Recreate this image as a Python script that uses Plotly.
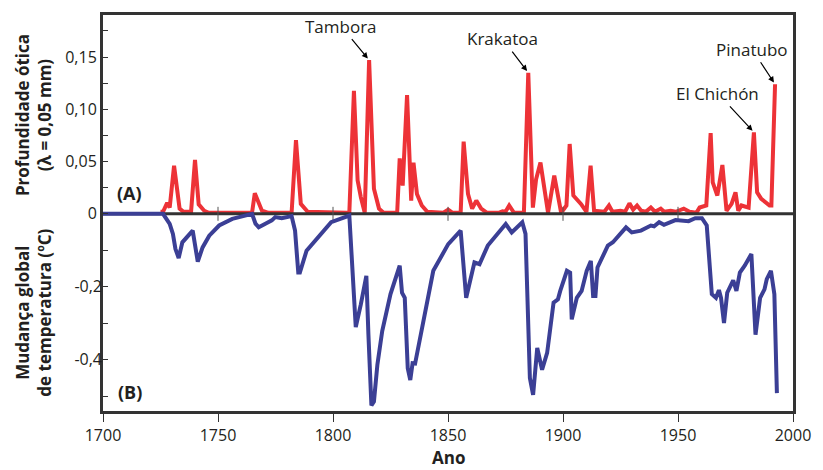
import plotly.graph_objects as go

# ---- data ----
red_years = [1725, 1726.1, 1727.9, 1729, 1730.9, 1733.3, 1735, 1738.3, 1740, 1741.6, 1744, 1746,
             1764.8, 1766, 1769.1, 1772, 1782, 1783.9, 1786, 1789, 1806, 1807.1, 1809.1, 1810.7,
             1812.1, 1813.8, 1815.7, 1817.8, 1820, 1822, 1827.9, 1829, 1830.3, 1832.2, 1834, 1835,
             1836.5, 1838.6, 1841, 1848, 1850.1, 1852, 1855.5, 1856.8, 1858.7, 1860.5, 1862.3,
             1864.4, 1867, 1872, 1873.7, 1875, 1876.6, 1878.7, 1883, 1884.9, 1886.9, 1888.3,
             1890.2, 1892.3, 1893.5, 1896.2, 1898, 1899.2, 1901.5, 1902.9, 1904.5, 1906.6, 1907.8,
             1910.2, 1912, 1913.5, 1916, 1918, 1920, 1921.5, 1925, 1927, 1928.9, 1930.5, 1932.2,
             1934, 1936, 1938.2, 1940, 1942.5, 1944, 1946.8, 1949, 1952.5, 1955, 1958, 1959.4,
             1962.3, 1964.2, 1965.1, 1967.1, 1969.3, 1971.1, 1973.3, 1975, 1976.2, 1977.6, 1980.7,
             1983, 1984.4, 1986.2, 1989.8, 1990.6, 1992.2]
red_values = [0.002, 0.002, 0.0105, 0.006, 0.046, 0.005, 0.002, 0.002, 0.0515, 0.009, 0.003, 0.001,
              0.001, 0.0197, 0.003, 0.001, 0.001, 0.0706, 0.0095, 0.002, 0.001, 0.001, 0.1176, 0.032,
              0.016, 0.001, 0.147, 0.024, 0.005, 0.001, 0.001, 0.053, 0.027, 0.1135, 0.0127, 0.049,
              0.019, 0.008, 0.002, 0.001, 0.004, 0.001, 0.001, 0.069, 0.019, 0.005, 0.0127,
              0.005, 0.001, 0.001, 0.0025, 0.002, 0.008, 0.001, 0.001, 0.135, 0.006, 0.033,
              0.049, 0.019, 0.001, 0.0365, 0.0127, 0.001, 0.008, 0.0668, 0.0175, 0.0127, 0.0095,
              0.002, 0.046, 0.003, 0.002, 0.002, 0.008, 0.002, 0.003, 0.002, 0.010, 0.004, 0.008,
              0.003, 0.002, 0.006, 0.002, 0.005, 0.002, 0.003, 0.002, 0.005, 0.002, 0.001, 0.006,
              0.008, 0.0773, 0.030, 0.0175, 0.0467, 0.003, 0.0095, 0.0206, 0.003, 0.008, 0.006,
              0.078, 0.0206, 0.0143, 0.008, 0.008, 0.124]

blue_years = [1700, 1726.1, 1729, 1730.4, 1731.5, 1732.9, 1734.5, 1739, 1741.2, 1743.3, 1746.2,
              1750.5, 1756.2, 1764.8, 1766.3, 1767.7, 1770.6, 1773.4, 1774.9, 1777.7, 1782, 1783.5,
              1784.9, 1785.6, 1788.5, 1793.5, 1799.2, 1807.1, 1808.5, 1809.9, 1812.1, 1814.5,
              1815.4, 1816.7, 1817.8, 1819.3, 1821.4, 1825, 1829, 1830, 1831.2, 1832.5, 1833.6,
              1834.6, 1835.7, 1838.6, 1843.6, 1850.1, 1855.5, 1857.9, 1861.5, 1863.7, 1867.3,
              1875.1, 1877.7, 1882.3, 1883.7, 1885.6, 1887, 1888.8, 1890.9, 1893.1, 1894.5, 1895.9,
              1897.8, 1898.8, 1901.7, 1903.1, 1903.8, 1906, 1908.1, 1910.3, 1912.1, 1913.1, 1914.1,
              1915, 1919.5, 1921.7, 1927.4, 1929.9, 1933.9, 1938.2, 1939.6, 1941.8, 1943.9, 1948.9,
              1954.6, 1957.5, 1960.4, 1962.5, 1964.7, 1966.5, 1967.8, 1968.7, 1970, 1971.4, 1974,
              1975.4, 1976.9, 1979, 1981.9, 1983.7, 1985.7, 1987.6, 1988.6, 1990.4, 1991.9, 1993]
blue_values = [0, 0, -0.0275, -0.055, -0.096, -0.121, -0.078, -0.046, -0.131, -0.092, -0.060,
               -0.032, -0.014, 0, -0.027, -0.037, -0.027, -0.018, -0.009, -0.012, -0.006, -0.046,
               -0.161, -0.161, -0.101, -0.064, -0.023, -0.005, -0.147, -0.310, -0.248, -0.170,
               -0.331, -0.525, -0.514, -0.413, -0.321, -0.220, -0.142, -0.216, -0.230, -0.423, -0.455,
               -0.409, -0.410, -0.312, -0.156, -0.083, -0.046, -0.230, -0.133, -0.138, -0.087,
               -0.028, -0.051, -0.023, -0.055, -0.450, -0.496, -0.367, -0.427, -0.381, -0.317, -0.243,
               -0.234, -0.211, -0.156, -0.161, -0.289, -0.230, -0.211, -0.156, -0.129, -0.225, -0.225,
               -0.147, -0.087, -0.078, -0.037, -0.051, -0.046, -0.032, -0.034, -0.023, -0.030, -0.017,
               -0.020, -0.012, -0.012, -0.032, -0.220, -0.230, -0.209, -0.230, -0.299, -0.216, -0.182,
               -0.211, -0.161, -0.142, -0.110, -0.331, -0.230, -0.207, -0.179, -0.156, -0.220, -0.491]

x_range = [1700, 2000]
x_ticks = [1700, 1750, 1800, 1850, 1900, 1950, 2000]
x_ticklabels = ["1700", "1750", "1800", "1850", "1900", "1950", "2000"]
top_ticks = [0, 0.05, 0.10, 0.15]
top_ticklabels = ["0", "0,05", "0,10", "0,15"]
top_minor = [0.025, 0.075, 0.125, 0.175]
bot_ticks = [-0.2, -0.4]
bot_ticklabels = ["-0,2", "-0,4"]
bot_minor = [-0.1, -0.3, -0.5]

volcanoes = ["Tambora", "Krakatoa", "El Chichón", "Pinatubo"]
volcano_years = [1815.7, 1884.9, 1983, 1992.2]
volcano_values = [0.147, 0.135, 0.078, 0.124]
label_offsets = [(-28, -34), (-26, -34), (-36, -39), (-23, -35)]

RED = "#ED3237"
BLUE = "#3B3F95"
FRAME = "#333333"
TXT = "#231F20"
FONT = "Open Sans"

fig = go.Figure()
fig.add_trace(go.Scatter(x=red_years, y=red_values, mode="lines",
                         line=dict(color=RED, width=4), yaxis="y", showlegend=False))
# zero line dividing the two panels
fig.add_trace(go.Scatter(x=x_range, y=[0, 0], mode="lines",
                         line=dict(color=FRAME, width=3), yaxis="y", showlegend=False))
# tick marks crossing the divider
fig.add_trace(go.Scatter(x=x_ticks[1:-1], y=[0] * (len(x_ticks) - 2), mode="markers",
                         marker=dict(symbol="line-ns", size=10, line=dict(color="#555555", width=1)),
                         yaxis="y", showlegend=False))
fig.add_trace(go.Scatter(x=blue_years, y=blue_values, mode="lines",
                         line=dict(color=BLUE, width=4), yaxis="y2", showlegend=False))

tickfont = dict(family=FONT, size=16, color=TXT)
fig.update_layout(
    width=823, height=470,
    margin=dict(l=103, r=22, t=14, b=59),
    paper_bgcolor="white", plot_bgcolor="white",
    font=dict(family=FONT, color=TXT),
    xaxis=dict(range=x_range, tickvals=x_ticks, ticktext=x_ticklabels, ticks="outside",
               ticklen=8, tickwidth=1, tickcolor=FRAME, showline=True, linecolor=FRAME,
               linewidth=3, mirror=True, showgrid=False, zeroline=False, tickfont=tickfont),
    yaxis=dict(range=[-0.1886, 0.1902], tickvals=top_ticks, ticktext=top_ticklabels,
               ticks="inside", ticklen=5, tickwidth=1, tickcolor=FRAME, showline=True,
               linecolor=FRAME, linewidth=3, mirror=True, showgrid=False, zeroline=False,
               tickfont=tickfont,
               minor=dict(tickvals=top_minor, ticks="inside", ticklen=5, tickwidth=1,
                          tickcolor=FRAME)),
    yaxis2=dict(range=[-0.540, 0.5445], overlaying="y", side="left", tickvals=bot_ticks,
                ticktext=bot_ticklabels, ticks="inside", ticklen=5, tickwidth=1,
                tickcolor=FRAME, showline=False, showgrid=False, zeroline=False,
                tickfont=tickfont,
                minor=dict(tickvals=bot_minor, ticks="inside", ticklen=5, tickwidth=1,
                           tickcolor=FRAME)),
)

for name, yr, val, (ax, ay) in zip(volcanoes, volcano_years, volcano_values, label_offsets):
    fig.add_annotation(x=yr, y=val, xref="x", yref="y", text=name, showarrow=True,
                       ax=ax, ay=ay, arrowhead=2, arrowsize=1, arrowwidth=1.2,
                       arrowcolor="black", standoff=2,
                       font=dict(family=FONT, size=17, color=TXT))

bold = dict(family=FONT, size=17, color=TXT)
fig.add_annotation(x=-0.101, y=0.748, xref="paper", yref="paper", showarrow=False,
                   text="<b>Profundidade ótica<br>(λ = 0,05 mm)</b>", textangle=-90,
                   font=bold, xanchor="center", yanchor="middle")
fig.add_annotation(x=-0.101, y=0.249, xref="paper", yref="paper", showarrow=False,
                   text="<b>Mudança global<br>de temperatura (ºC)</b>", textangle=-90,
                   font=bold, xanchor="center", yanchor="middle")
fig.add_annotation(x=0.0387, y=0.5516, xref="paper", yref="paper", showarrow=False,
                   text="<b>(A)</b>", font=dict(family=FONT, size=18, color=TXT),
                   xanchor="center", yanchor="middle")
fig.add_annotation(x=0.0387, y=0.0479, xref="paper", yref="paper", showarrow=False,
                   text="<b>(B)</b>", font=dict(family=FONT, size=18, color=TXT),
                   xanchor="center", yanchor="middle")
fig.add_annotation(x=0.5, y=-0.118, xref="paper", yref="paper", showarrow=False,
                   text="<b>Ano</b>", font=dict(family=FONT, size=17, color=TXT),
                   xanchor="center", yanchor="middle")

fig.write_html("out.html")
